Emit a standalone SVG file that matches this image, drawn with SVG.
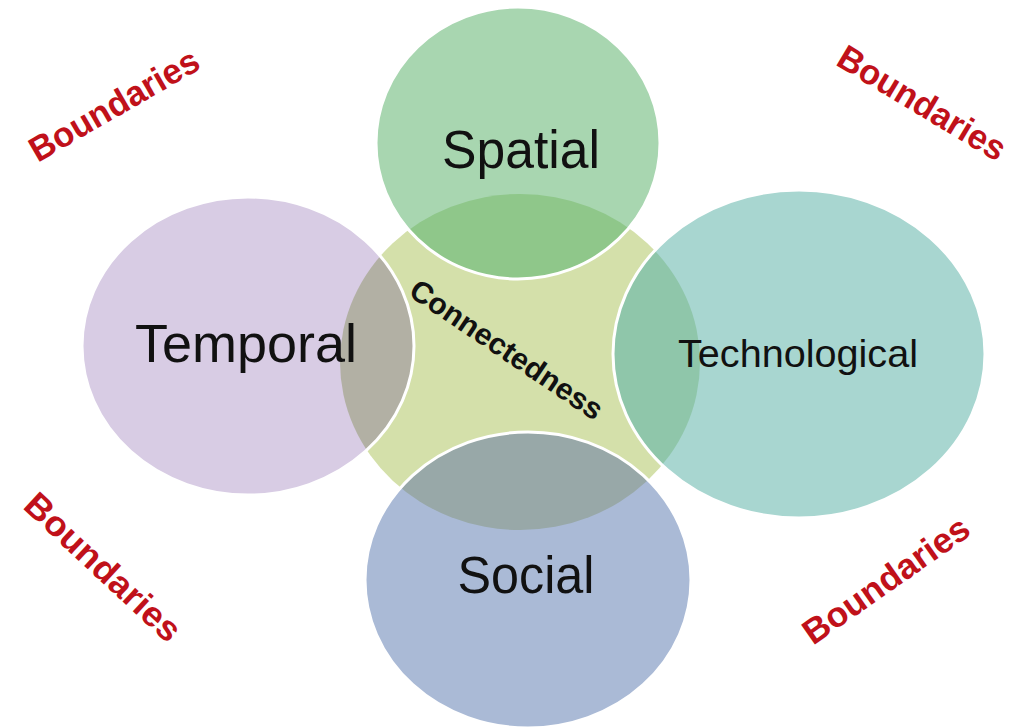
<svg xmlns="http://www.w3.org/2000/svg" width="1020" height="728" viewBox="0 0 1020 728">
  <style>
    .lbl { font-family: "Liberation Sans", Arial, sans-serif; fill: #111; text-anchor: middle; }
    .bnd { font-family: "Liberation Sans", Arial, sans-serif; font-weight: bold; fill: #c0111a; text-anchor: middle; font-size: 35px; }
    .ring { fill: none; stroke: #ffffff; stroke-width: 3; }
  </style>
  <defs>
    <clipPath id="centerClip">
      <ellipse cx="520" cy="362" rx="180" ry="168"/>
    </clipPath>
  </defs>
  <rect width="1020" height="728" fill="#ffffff"/>

  <g id="connectedness">
    <ellipse cx="520" cy="362" rx="180" ry="168" fill="#d4e0aa"/>
  </g>

  <g id="spatial">
    <ellipse cx="518" cy="143" rx="142" ry="136" fill="#a8d6b0"/>
    <ellipse cx="518" cy="143" rx="142" ry="136" fill="#8fc78a" clip-path="url(#centerClip)"/>
    <ellipse class="ring" cx="518" cy="143" rx="142" ry="136"/>
    <text class="lbl" x="521" y="168" font-size="53" textLength="158" lengthAdjust="spacingAndGlyphs">Spatial</text>
  </g>

  <g id="temporal">
    <ellipse cx="248" cy="346" rx="166" ry="149" fill="#d8cce4"/>
    <ellipse cx="248" cy="346" rx="166" ry="149" fill="#b2b0a4" clip-path="url(#centerClip)"/>
    <ellipse class="ring" cx="248" cy="346" rx="166" ry="149"/>
    <text class="lbl" x="246" y="362" font-size="53" textLength="222" lengthAdjust="spacingAndGlyphs">Temporal</text>
  </g>

  <g id="technological">
    <ellipse cx="799" cy="354" rx="186" ry="164" fill="#a8d6d0"/>
    <ellipse cx="799" cy="354" rx="186" ry="164" fill="#8fc6aa" clip-path="url(#centerClip)"/>
    <ellipse class="ring" cx="799" cy="354" rx="186" ry="164"/>
    <text class="lbl" x="798" y="367" font-size="39" textLength="240" lengthAdjust="spacingAndGlyphs">Technological</text>
  </g>

  <g id="social">
    <ellipse cx="528" cy="580" rx="163" ry="148" fill="#aabad6"/>
    <ellipse cx="528" cy="580" rx="163" ry="148" fill="#98a8a8" clip-path="url(#centerClip)"/>
    <ellipse class="ring" cx="528" cy="580" rx="163" ry="148"/>
    <text class="lbl" x="526" y="593" font-size="51" textLength="137" lengthAdjust="spacingAndGlyphs">Social</text>
  </g>

  <g id="connectedness-label">
    <text class="lbl" x="507" y="360" font-size="30" font-weight="bold" textLength="226" lengthAdjust="spacingAndGlyphs" transform="rotate(34 507 349)">Connectedness</text>
  </g>

  <g id="connectors"/>

  <g id="boundaries">
    <text class="bnd" x="114" y="117" textLength="190" lengthAdjust="spacingAndGlyphs" transform="rotate(-30 114 105)">Boundaries</text>
    <text class="bnd" x="922" y="115" textLength="190" lengthAdjust="spacingAndGlyphs" transform="rotate(31 922 103)">Boundaries</text>
    <text class="bnd" x="103" y="579" textLength="200" lengthAdjust="spacingAndGlyphs" transform="rotate(43 103 567)">Boundaries</text>
    <text class="bnd" x="886" y="592" textLength="195" lengthAdjust="spacingAndGlyphs" transform="rotate(-35 886 580)">Boundaries</text>
  </g>
</svg>
